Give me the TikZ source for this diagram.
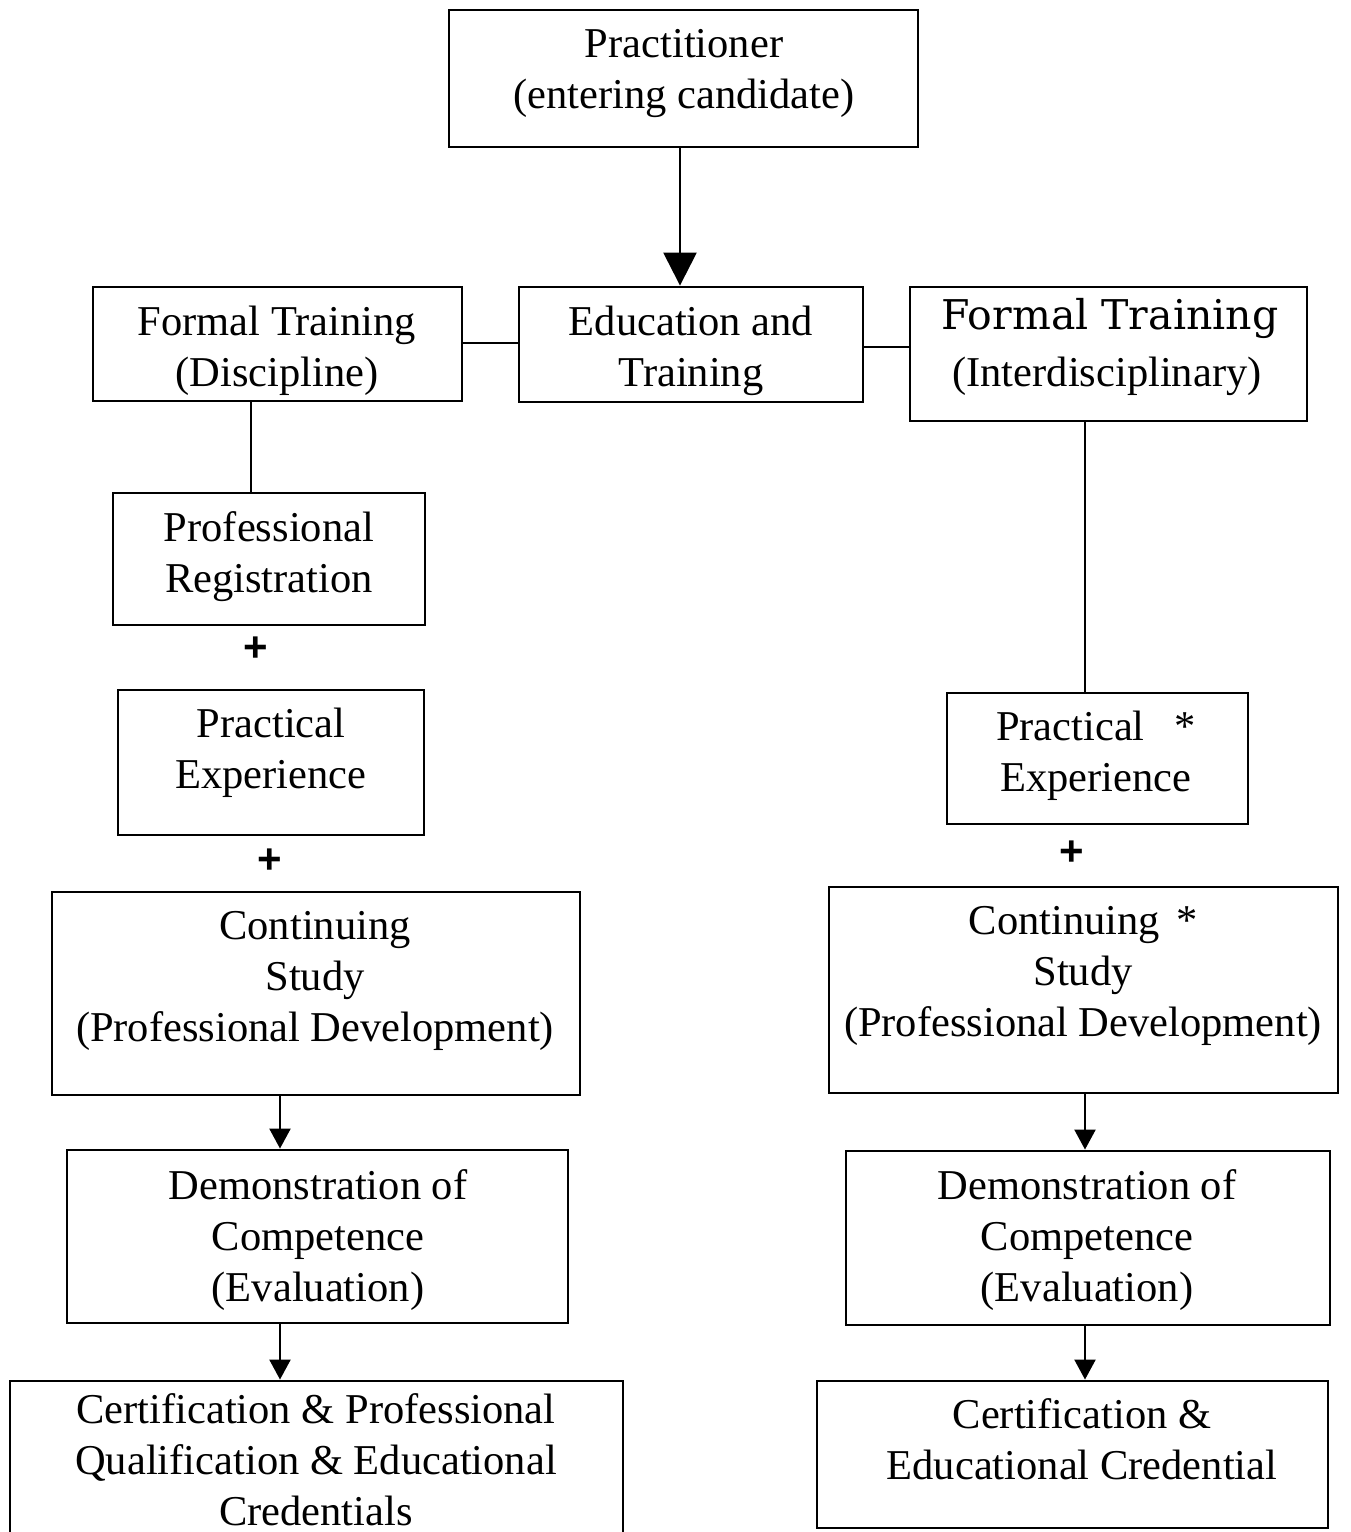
\documentclass[tikz,border=0pt]{standalone}
\usepackage{fontspec}
\setmainfont{Liberation Serif}
\newfontfamily\plusfont{Liberation Sans}
\newfontfamily\wideserif{DejaVu Serif}
\usetikzlibrary{arrows.meta}
\newcommand\mkbox[5]{%
  \node[boxnode, minimum width={(#4-#2)*1pt}, minimum height={(#5-#3)*1pt}]
    (#1) at ({(#2+#4)/2},{(#3+#5)/2}) {};}
\tikzset{
  boxnode/.style={draw, line width=2.9pt, rectangle, inner sep=0pt},
  txt/.style={font=\fontsize{42.5}{51}\selectfont, align=center, anchor=base, inner sep=0pt},
  link/.style={line width=2.3pt},
  arr/.style={line width=2.3pt, -{Triangle[length=20pt,width=21pt]}},
  bigarr/.style={line width=2.6pt, -{Triangle[length=33pt,width=33pt]}},
  plus/.style={font=\plusfont\bfseries\fontsize{42}{42}\selectfont, inner sep=0pt},
}
\begin{document}
\begin{tikzpicture}[x=1pt,y=-1pt]
\useasboundingbox[fill=white] (0,0) rectangle (1351,1532);
\clip (0,0) rectangle (1351,1532);
% boxes
\mkbox{prac}{449}{10}{918}{147}
\mkbox{edu}{519}{287}{863}{402}
\mkbox{disc}{93}{287}{462}{401}
\mkbox{inter}{910}{287}{1307}{421}
\mkbox{reg}{113}{493}{425}{625}
\mkbox{pexL}{118}{690}{424}{835}
\mkbox{csL}{52}{892}{580}{1095}
\mkbox{demL}{67}{1150}{568}{1323}
\mkbox{certL}{10}{1381}{623}{1560}
\mkbox{pexR}{947}{693}{1248}{824}
\mkbox{csR}{829}{887}{1338}{1093}
\mkbox{demR}{846}{1151}{1330}{1325}
\mkbox{certR}{817}{1381}{1328}{1528}
% texts (anchor = baseline of the last line)
\node[txt] (t-prac) at (684,108) {Practitioner\\(entering candidate)};
\node[txt] (t-edu) at (691,386) {Education and\\Training};
\node[txt] (t-disc) at (277,386) {Formal Training\\(Discipline)};
\node[txt, font=\wideserif\fontsize{41}{51}\selectfont] (t-inter1) at (1110,329) {Formal Training};
\node[txt] (t-inter2) at (1107,386) {(Interdisciplinary)};
\node[txt] (t-reg) at (269,592) {Professional\\Registration};
\node[txt] (t-pexL) at (271,788) {Practical\\Experience};
\node[txt] (t-csL) at (315,1041) {Continuing\\Study\\(Professional Development)};
\node[txt] (t-demL) at (318,1301) {Demonstration of\\Competence\\(Evaluation)};
\node[txt] (t-certL) at (316,1525) {Certification \& Professional\\Qualification \& Educational\\Credentials};
\node[txt] (t-pexR) at (1096,791) {Practical\hspace{30pt}*\\Experience};
\node[txt] (t-csR) at (1083,1036) {Continuing\hspace{16pt}*\\Study\\(Professional Development)};
\node[txt] (t-demR) at (1087,1301) {Demonstration of\\Competence\\(Evaluation)};
\node[txt] (t-certR) at (1082,1479) {Certification \&\\Educational Credential};
% plus signs
\node[plus] (p1) at (256,649) {+};
\node[plus] (p2) at (270,861) {+};
\node[plus] (p3) at (1072,853) {+};
% x / y positions for connectors
\coordinate (xTop) at (680,0);
\coordinate (xL1) at (251,0);
\coordinate (xL2) at (280,0);
\coordinate (xR) at (1085,0);
\coordinate (yL) at (0,343);
\coordinate (yR) at (0,347);
% connectors
\draw[bigarr] (prac.south -| xTop) -- (edu.north -| xTop);
\draw[link] (disc.east |- yL) -- (edu.west |- yL);
\draw[link] (edu.east |- yR) -- (inter.west |- yR);
\draw[link] (disc.south -| xL1) -- (reg.north -| xL1);
\draw[link] (inter.south -| xR) -- (pexR.north -| xR);
\draw[arr] (csL.south -| xL2) -- (demL.north -| xL2);
\draw[arr] (demL.south -| xL2) -- (certL.north -| xL2);
\draw[arr] (csR.south -| xR) -- (demR.north -| xR);
\draw[arr] (demR.south -| xR) -- (certR.north -| xR);
\end{tikzpicture}
\end{document}
